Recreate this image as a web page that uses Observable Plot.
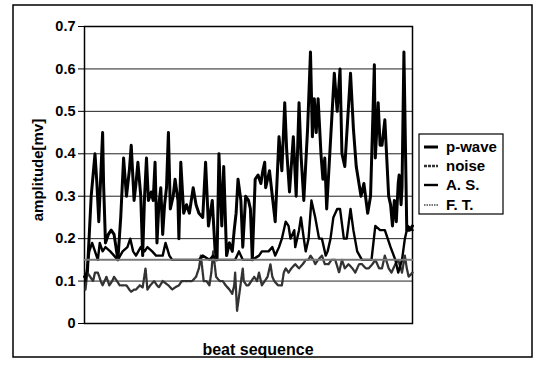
<!DOCTYPE html>
<html><head><meta charset="utf-8">
<script src="https://cdn.jsdelivr.net/npm/d3@7"></script>
<script src="https://cdn.jsdelivr.net/npm/@observablehq/plot@0.6"></script>
<style>html,body{margin:0;padding:0;background:#fff}</style>
</head><body><div id="chart"></div>
<script>
const yTicks = [0, 0.1, 0.2, 0.3, 0.4, 0.5, 0.6, 0.7];
const seriesNames = ["p-wave", "noise", "A. S.", "F. T."];
const xLabel = "beat sequence";
const yLabel = "amplitude[mv]";

const pwaveBeat = [0,3,7,11,13,15,19,20,22,25,28,31,33,35,38,41,44,47,49,52,54,56,59,61,63,65,67,70,72,74,76,78,80,82,84,86,88,90,93,95,98,99,101,104,107,110,114,117,120,124,127,130,134,137,139,141,144,146,149,152,155,157,159,161,164,166,169,172,174,176,179,182,185,187,189,190,194,197,200,204,207,210,212,215,219,222,225,227,230,234,237,239,241,243,245,248,250,252,254,257,262,265,268,270,273,279,282,285,290,293,297,300,304,305,308,310,312,315,319,321,323,325,327,329,330,332,333,335,338,341,344];
const pwaveAmp = [0.11,0.12,0.30,0.40,0.33,0.24,0.45,0.33,0.19,0.21,0.22,0.21,0.18,0.15,0.25,0.39,0.30,0.36,0.42,0.29,0.33,0.38,0.30,0.16,0.30,0.39,0.29,0.31,0.29,0.38,0.19,0.28,0.32,0.21,0.28,0.32,0.45,0.27,0.30,0.34,0.29,0.20,0.38,0.26,0.28,0.26,0.32,0.28,0.26,0.25,0.38,0.23,0.29,0.17,0.15,0.40,0.23,0.37,0.16,0.19,0.17,0.22,0.26,0.34,0.29,0.18,0.30,0.29,0.27,0.15,0.34,0.35,0.33,0.36,0.38,0.32,0.36,0.30,0.24,0.44,0.36,0.52,0.41,0.31,0.44,0.30,0.52,0.40,0.29,0.46,0.64,0.44,0.53,0.45,0.53,0.40,0.34,0.39,0.27,0.39,0.59,0.50,0.60,0.40,0.37,0.59,0.46,0.37,0.30,0.33,0.26,0.30,0.61,0.39,0.52,0.42,0.42,0.48,0.30,0.28,0.23,0.29,0.24,0.33,0.35,0.28,0.32,0.64,0.22,0.22,0.23];

const noiseBeat = [1,3,6,9,11,14,17,19,21,23,26,29,31,34,37,41,44,47,49,52,54,58,61,64,66,69,73,76,78,82,85,88,92,95,99,102,105,109,113,117,120,122,124,125,128,131,133,135,137,138,142,145,148,152,155,157,158,160,163,166,167,170,172,175,178,181,183,186,189,192,195,197,199,203,207,209,211,214,217,221,225,229,232,235,237,240,242,245,249,252,256,259,263,267,270,273,277,281,284,288,291,295,298,302,305,309,312,315,319,322,326,329,333,336,338,340,344];
const noiseAmp = [0.08,0.12,0.11,0.10,0.12,0.12,0.10,0.09,0.10,0.11,0.09,0.10,0.11,0.10,0.09,0.09,0.09,0.08,0.075,0.08,0.08,0.09,0.085,0.13,0.08,0.09,0.10,0.09,0.085,0.10,0.095,0.09,0.08,0.085,0.09,0.10,0.10,0.10,0.10,0.11,0.13,0.16,0.12,0.10,0.10,0.09,0.12,0.17,0.13,0.11,0.10,0.10,0.09,0.08,0.07,0.09,0.12,0.03,0.08,0.13,0.10,0.09,0.09,0.10,0.11,0.10,0.12,0.09,0.10,0.11,0.14,0.11,0.10,0.09,0.09,0.12,0.13,0.12,0.13,0.14,0.13,0.14,0.15,0.15,0.16,0.15,0.14,0.15,0.16,0.14,0.14,0.15,0.15,0.12,0.15,0.13,0.14,0.13,0.12,0.14,0.14,0.13,0.13,0.14,0.15,0.13,0.13,0.16,0.13,0.12,0.14,0.15,0.12,0.16,0.13,0.11,0.12];

const asBeat = [1,5,8,11,14,16,19,22,27,31,35,40,45,48,51,54,59,63,66,71,75,82,85,89,92,107,120,124,131,135,138,158,162,166,176,183,186,193,197,200,204,207,211,214,216,220,221,225,227,230,232,235,238,242,246,249,253,255,258,261,265,268,272,275,279,282,286,291,301,305,310,315,321,326,329,333,336,339,344];
const asAmp = [0.10,0.17,0.19,0.17,0.15,0.19,0.17,0.18,0.17,0.16,0.15,0.17,0.18,0.20,0.17,0.16,0.18,0.17,0.18,0.17,0.16,0.16,0.19,0.16,0.15,0.15,0.15,0.16,0.15,0.16,0.15,0.15,0.17,0.15,0.15,0.16,0.17,0.17,0.18,0.16,0.18,0.20,0.24,0.23,0.20,0.22,0.18,0.22,0.25,0.20,0.17,0.20,0.29,0.25,0.20,0.20,0.16,0.17,0.20,0.25,0.27,0.27,0.20,0.20,0.27,0.22,0.17,0.15,0.15,0.23,0.22,0.22,0.18,0.15,0.12,0.15,0.20,0.23,0.22];

const ftBeat = [0, 344];
const ftAmp = [0.15, 0.15];

const rows = (b, a) => b.map((x, i) => ({beat: x, amp: a[i]}));
const styles = [
  {stroke: "#000", strokeWidth: 3, dash: null},
  {stroke: "#333", strokeWidth: 2.3, dash: "3,1"},
  {stroke: "#000", strokeWidth: 2.4, dash: null},
  {stroke: "#777", strokeWidth: 2, dash: "1.5,1"}
];
const data = [rows(pwaveBeat, pwaveAmp), rows(noiseBeat, noiseAmp), rows(asBeat, asAmp), rows(ftBeat, ftAmp)];

const chart = Plot.plot({
  width: 543, height: 371,
  marginLeft: 84, marginRight: 131, marginTop: 26, marginBottom: 48,
  style: {fontFamily: '"Liberation Sans", Arial, sans-serif', fontSize: "14.5px", fontWeight: "bold", color: "#000", background: "#fff"},
  x: {domain: [0, 344], axis: null},
  y: {domain: [0, 0.7], ticks: yTicks, tickFormat: d => d === 0 ? "0" : d.toFixed(1), tickSize: 6, tickPadding: 3, label: null},
  marks: [
    Plot.ruleY(yTicks.filter(d => d > 0 && d < 0.7), {stroke: "#222", strokeWidth: 1}),
    Plot.frame({stroke: "#000", strokeWidth: 1.5}),
    ...data.map((d, i) => Plot.line(d, {x: "beat", y: "amp", stroke: styles[i].stroke, strokeWidth: styles[i].strokeWidth, strokeDasharray: styles[i].dash, curve: "linear"}))
  ]
});

const svg = d3.select(chart);
svg.append("rect").attr("x", 13).attr("y", 5).attr("width", 519).attr("height", 352)
  .attr("fill", "none").attr("stroke", "#000").attr("stroke-width", 1.5);
svg.append("text").attr("x", 258).attr("y", 355).attr("text-anchor", "middle")
  .attr("font-size", 16).attr("font-weight", "bold").attr("fill", "#000").text(xLabel);
svg.append("text").attr("transform", "translate(43,170) rotate(-90)").attr("text-anchor", "middle")
  .attr("font-size", 15).attr("font-weight", "bold").attr("fill", "#000").text(yLabel);
const lg = svg.append("g");
lg.append("rect").attr("x", 419).attr("y", 134).attr("width", 84).attr("height", 80)
  .attr("fill", "#fff").attr("stroke", "#000").attr("stroke-width", 1.2);
const ly = [147, 166, 185, 205];
seriesNames.forEach((n, i) => {
  lg.append("line").attr("x1", 424).attr("x2", 438).attr("y1", ly[i]).attr("y2", ly[i])
    .attr("stroke", styles[i].stroke).attr("stroke-width", styles[i].strokeWidth)
    .attr("stroke-dasharray", styles[i].dash);
  lg.append("text").attr("x", 446).attr("y", ly[i]).attr("dy", "0.35em")
    .attr("text-anchor", "start")
    .attr("font-size", 15).attr("font-weight", "bold").attr("fill", "#000").text(n);
});
document.getElementById("chart").appendChild(chart);
</script>
</body></html>
